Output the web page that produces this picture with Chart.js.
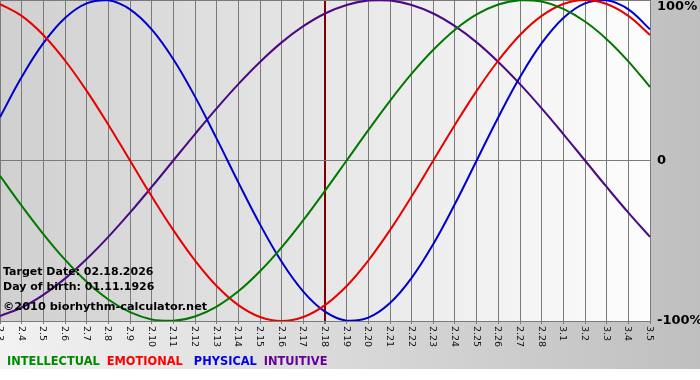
<!DOCTYPE html>
<html><head><meta charset="utf-8">
<script src="https://cdn.jsdelivr.net/npm/chart.js@4/dist/chart.umd.min.js"></script>
<style>html,body{margin:0;padding:0;background:#fff;overflow:hidden;}</style>
</head><body>
<canvas id="c" width="700" height="380"></canvas>
<script>
// ---- data ----
const dateLabels = ['2.3','2.4','2.5','2.6','2.7','2.8','2.9','2.10','2.11','2.12','2.13','2.14','2.15','2.16','2.17','2.18','2.19','2.20','2.21','2.22','2.23','2.24','2.25','2.26','2.27','2.28','3.1','3.2','3.3','3.4','3.5'];
const intellectual = [-9.5,-28.2,-45.8,-61.8,-75.6,-86.6,-94.5,-99.0,-99.9,-97.2,-91.0,-81.5,-69.0,-54.1,-37.2,-18.9,0,18.9,37.2,54.1,69.0,81.5,91.0,97.2,99.9,99.0,94.5,86.6,75.6,61.8,45.8];
const emotional = [97.5,90.1,78.2,62.3,43.4,22.3,0,-22.3,-43.4,-62.3,-78.2,-90.1,-97.5,-100,-97.5,-90.1,-78.2,-62.3,-43.4,-22.3,0,22.3,43.4,62.3,78.2,90.1,97.5,100,97.5,90.1,78.2];
const physical = [27.0,52.0,73.1,88.8,97.9,99.8,94.2,81.7,63.1,39.8,13.6,-13.6,-39.8,-63.1,-81.7,-94.2,-99.8,-97.9,-88.8,-73.1,-52.0,-27.0,0,27.0,52.0,73.1,88.8,97.9,99.8,94.2,81.7];
const intuitive = [-96.9,-91.6,-83.7,-73.6,-61.4,-47.6,-32.5,-16.5,0,16.5,32.5,47.6,61.4,73.6,83.7,91.6,96.9,99.7,99.7,96.9,91.6,83.7,73.6,61.4,47.6,32.5,16.5,0,-16.5,-32.5,-47.6];
const seriesNames = ['INTELLECTUAL','EMOTIONAL','PHYSICAL','INTUITIVE'];
const yTickValues = [100, 0, -100];
const yTickLabels = ['100%', '0', '-100%'];
const targetLabel = '2.18';
const infoLines = ['Target Date: 02.18.2026', 'Day of birth: 01.11.1926', '\u00A92010 biorhythm-calculator.net'];

// ---- styles ----
const lineColors = ['#007800', '#e80000', '#0000cc', '#4b0a82'];
const legendColors = ['#008a00', '#ff0000', '#0000ee', '#660099'];
const legendGaps = [7, 11, 7];
const FONT = "'DejaVu Sans',Verdana,sans-serif";
const targetIndex = dateLabels.indexOf(targetLabel);

const bgPlugin = {
  id: 'bg',
  beforeDraw(chart) {
    const ctx = chart.ctx, a = chart.chartArea;
    ctx.save();
    ctx.fillStyle = '#ffffff';
    ctx.fillRect(0, 0, chart.width, chart.height);
    let g = ctx.createLinearGradient(0, 0, chart.width, 0);
    g.addColorStop(0, '#f2f2f2');
    g.addColorStop(1, '#bfbfbf');
    ctx.fillStyle = g;
    ctx.fillRect(0, 0, chart.width, 369);
    g = ctx.createLinearGradient(a.left, 0, a.right, 0);
    g.addColorStop(0, '#d0d0d0');
    g.addColorStop(1, '#fdfdfd');
    ctx.fillStyle = g;
    ctx.fillRect(a.left, a.top, a.right - a.left, a.bottom - a.top);
    ctx.restore();
  }
};

const textPlugin = {
  id: 'texts',
  afterDraw(chart) {
    const ctx = chart.ctx, xs = chart.scales.x, ys = chart.scales.y, a = chart.chartArea;
    ctx.save();
    // x tick labels, rotated clockwise
    ctx.fillStyle = '#111';
    ctx.font = '9.5px ' + FONT;
    ctx.textAlign = 'left';
    ctx.textBaseline = 'middle';
    dateLabels.forEach((lab, i) => {
      const x = xs.getPixelForTick(i);
      ctx.save();
      ctx.translate(x, a.bottom + 5);
      ctx.rotate(Math.PI / 2);
      ctx.fillText(lab, 0, 0.5);
      ctx.restore();
    });
    // y tick labels on right
    ctx.fillStyle = '#000';
    ctx.font = 'bold 13px ' + FONT;
    yTickValues.forEach((v, i) => {
      let y = ys.getPixelForValue(v);
      y = Math.max(a.top + 7, Math.min(a.bottom + 1, y));
      ctx.fillText(yTickLabels[i], a.right + 7, y);
    });
    // info lines
    ctx.font = 'bold 11px ' + FONT;
    ctx.fillText(infoLines[0], 3, 272);
    ctx.fillText(infoLines[1], 3, 287);
    ctx.font = 'bold 11.3px ' + FONT;
    ctx.fillText(infoLines[2], 3, 307);
    // legend
    ctx.font = 'bold 11.4px ' + FONT;
    let x = 7;
    chart.data.datasets.forEach((ds, i) => {
      ctx.fillStyle = legendColors[i];
      ctx.fillText(ds.label, x, 362);
      x += ctx.measureText(ds.label).width + (legendGaps[i] || 8);
    });
    ctx.restore();
  }
};

const series = [intellectual, emotional, physical, intuitive];
new Chart(document.getElementById('c'), {
  type: 'line',
  data: {
    labels: dateLabels,
    datasets: series.map((d, i) => ({
      label: seriesNames[i],
      data: d,
      borderColor: lineColors[i],
      borderWidth: 2,
      pointRadius: 0,
      tension: 0.4,
      fill: false
    }))
  },
  options: {
    responsive: false,
    animation: false,
    devicePixelRatio: 1,
    layout: { padding: 0 },
    plugins: { legend: { display: false }, tooltip: { enabled: false } },
    scales: {
      x: {
        offset: false,
        ticks: { display: false },
        grid: {
          color: ctx => ctx.index === targetIndex ? '#800000' : '#7a7a7a',
          lineWidth: ctx => ctx.index === targetIndex ? 2 : 1,
          drawTicks: true,
          tickLength: 3,
          tickColor: '#7a7a7a'
        },
        border: { color: '#7a7a7a' },
        afterFit: s => { s.height = 59; }
      },
      y: {
        position: 'right',
        min: -100, max: 100,
        ticks: { display: false, stepSize: 100 },
        grid: { color: '#7a7a7a', drawTicks: false },
        border: { color: '#7a7a7a' },
        afterFit: s => { s.width = 50; }
      }
    }
  },
  plugins: [bgPlugin, textPlugin]
});
</script>
</body></html>
